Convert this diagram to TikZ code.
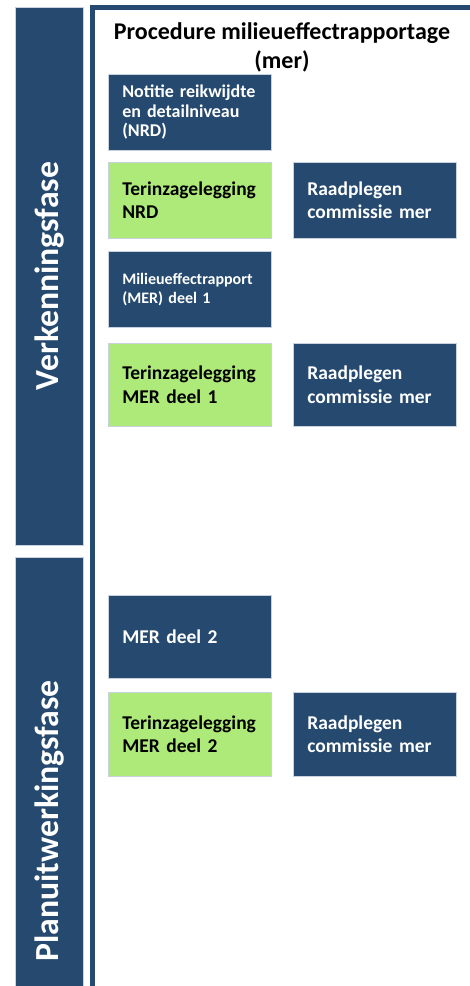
\documentclass[tikz,border=0pt]{standalone}
\usepackage{fontspec}
\setmainfont{Carlito}
\definecolor{merblue}{RGB}{38,74,111}
\definecolor{mergreen}{RGB}{174,234,122}
\definecolor{meredge}{RGB}{200,210,222}
\tikzset{
  stap/.style={draw=meredge, line width=0.6pt, fill=merblue, text=white, anchor=north west,
    minimum width=163pt, minimum height=76pt, inner xsep=14pt, text width=135pt, align=left,
    font=\fontsize{19.5}{23.5}\selectfont\bfseries},
  inzage/.style={stap, fill=mergreen, text=black},
  fase/.style={fill=merblue, draw=meredge, line width=0.6pt},
  fasetekst/.style={rotate=90, text=white, font=\fontsize{33.7}{38}\selectfont\bfseries}
}
\begin{document}
\begin{tikzpicture}[x=1pt,y=-1pt]
\useasboundingbox (0,0) rectangle (470,986);
%fasen
\filldraw[fase] (15,7) rectangle (83,545);
\filldraw[fase] (15,557) rectangle (83,990);
\node[fasetekst] (verkenning) at (50,276) {Verkenningsfase};
\node[fasetekst] (planuitwerking) at (50,821) {Planuitwerkingsfase};
%kader
\draw[merblue, line width=5pt] (92,990) -- (92,7.5) -- (472,7.5);
\node[align=center, font=\fontsize{24}{29}\selectfont\bfseries] (titel) at (282,47.5) {Procedure milieueffectrapportage\\(mer)};
%verkenningsfase
\node[stap, font=\fontsize{18}{19.5}\selectfont\bfseries] (nrd) at (108,74) {Notitie reikwijdte\\en detailniveau\\(NRD)};
\node[inzage] (inzagenrd) at (108,162) {Terinzagelegging\\NRD};
\node[stap] (raad1) at (293,162) {Raadplegen\\commissie mer};
\node[stap, font=\fontsize{16}{19}\selectfont\bfseries] (mer1) at (108,251) {Milieueffectrapport\\(MER) deel 1};
\node[inzage, minimum height=83pt] (inzagemer1) at (108,343) {Terinzagelegging\\MER deel 1};
\node[stap, minimum height=83pt] (raad2) at (293,343) {Raadplegen\\commissie mer};
%planuitwerkingsfase
\node[stap, minimum height=83pt] (mer2) at (108,595) {MER deel 2};
\node[inzage, minimum height=84pt] (inzagemer2) at (108,692) {Terinzagelegging\\MER deel 2};
\node[stap, minimum height=84pt] (raad3) at (293,692) {Raadplegen\\commissie mer};
\end{tikzpicture}
\end{document}
